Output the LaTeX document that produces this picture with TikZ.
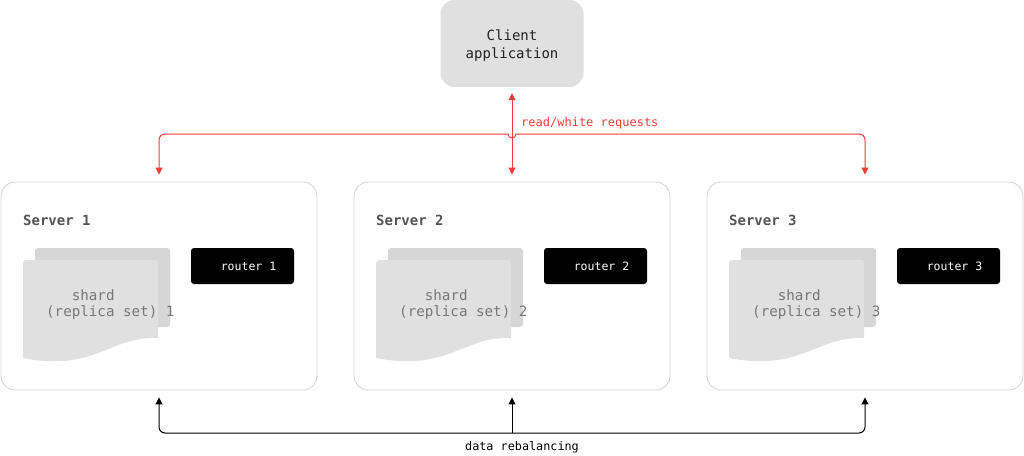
\documentclass[tikz,border=0pt]{standalone}
\usepackage{fontspec}
\setmonofont{DejaVu Sans Mono}
\usetikzlibrary{arrows.meta,calc}
\definecolor{clientgray}{HTML}{E0E0E0}
\definecolor{backgray}{HTML}{D6D6D6}
\definecolor{frontgray}{HTML}{E0E0E0}
\definecolor{bordergray}{HTML}{D6D6D6}
\definecolor{titlegray}{HTML}{555555}
\definecolor{shardtextgray}{HTML}{777777}
\definecolor{reqred}{HTML}{F43B3B}
\definecolor{darktext}{HTML}{222222}
\begin{document}
\begin{tikzpicture}[x=1pt,y=-1pt,
  >={Triangle[length=7pt,width=7pt]},
  client/.style={rectangle, rounded corners=14pt, fill=clientgray, minimum width=143pt, minimum height=87pt, align=center, font=\ttfamily\fontsize{14}{18}\selectfont, text=darktext, inner sep=0pt},
  server/.style={rectangle, rounded corners=14pt, draw=bordergray, line width=0.9pt, fill=white, minimum width=316pt, minimum height=208pt, inner sep=0pt},
  title/.style={font=\ttfamily\bfseries\fontsize{14}{16}\selectfont, text=titlegray, inner sep=0pt},
  backsheet/.style={fill=backgray},
  frontsheet/.style={fill=frontgray},
  shardtext/.style={font=\ttfamily\fontsize{14.2}{16}\selectfont, text=shardtextgray, align=left, inner sep=0pt},
  router/.style={rectangle, rounded corners=3pt, fill=black, text=white, minimum width=103pt, minimum height=36pt, inner sep=0pt, font=\ttfamily\fontsize{11.5}{14}\selectfont},
  req/.style={draw=reqred, line width=1pt},
  reb/.style={draw=black, line width=1pt},
  reqlabel/.style={font=\ttfamily\fontsize{12}{14}\selectfont, text=reqred, inner sep=0pt},
  reblabel/.style={font=\ttfamily\fontsize{11.8}{14}\selectfont, text=black, inner sep=0pt}
]
\useasboundingbox (0,0) rectangle (1024,455);
\node[client] (client) at (512,43.5) {\rule{0pt}{15pt}Client\\application};
\foreach \i/\dx in {1/0,2/353,3/706}{
  \node[server] (s\i) at (159+\dx,286) {};
  \node[title, anchor=west] (t\i) at (23+\dx,220.5) {Server \i};
  \fill[backsheet, rounded corners=3pt] (35+\dx,248) rectangle (170+\dx,327);
  \fill[frontsheet] (23+\dx,358) [rounded corners=3pt] -- (23+\dx,260) -- (158+\dx,260) [sharp corners] -- (158+\dx,338) .. controls (110+\dx,336) and (95+\dx,372) .. (23+\dx,358) -- cycle;
  \node[shardtext, anchor=north west] (sh\i) at (46+\dx,290) {\phantom{(re}shard\\(replica set) \i};
  \node[router] (r\i) at (242.5+\dx,266) {\hspace*{12pt}router \i};
}
% read/write connectors
\coordinate (j) at (512,134);
\draw[req, <->, shorten <=6pt, shorten >=7pt] (client.south) -- (s2.north);
\draw[req, ->, rounded corners=6pt, shorten >=7pt] ($(j)+(-4,0)$) -| (s1.north);
\draw[req, ->, rounded corners=6pt, shorten >=7pt] ($(j)+(4,0)$) -| (s3.north);
\draw[req] ($(j)+(-4,0)$) arc[start angle=180, end angle=360, radius=4pt];
\node[reqlabel, anchor=west] (lreq) at (521,123) {read/white requests};
% rebalancing connectors
\coordinate (b) at (512,433);
\draw[reb, <-, shorten <=7pt] (s2.south) -- (b);
\draw[reb, <-, rounded corners=6pt, shorten <=7pt] (s1.south) |- (b);
\draw[reb, <-, rounded corners=6pt, shorten <=7pt] (s3.south) |- (b);
\node[reblabel] (lreb) at (522,447) {data rebalancing};
\end{tikzpicture}
\end{document}
